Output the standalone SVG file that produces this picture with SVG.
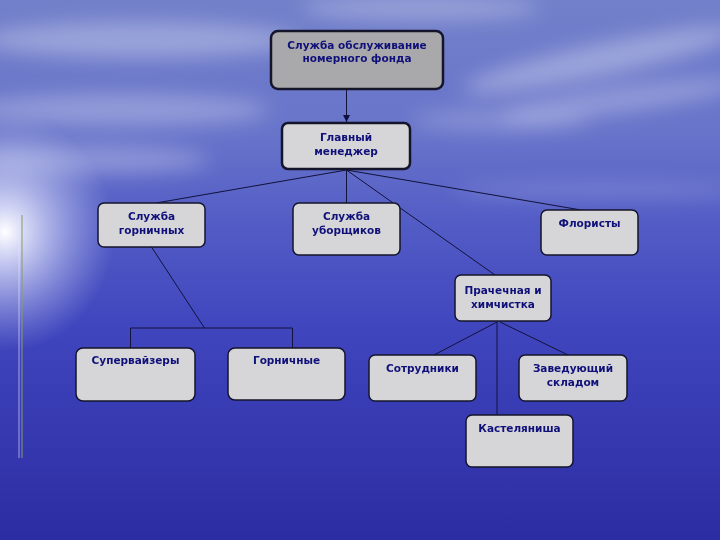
<svg xmlns="http://www.w3.org/2000/svg" width="720" height="540" viewBox="0 0 720 540">
  <defs>
    <linearGradient id="bg" x1="0" y1="0" x2="0" y2="1">
      <stop offset="0" stop-color="#7280ca"/>
      <stop offset="0.25" stop-color="#6874ca"/>
      <stop offset="0.4" stop-color="#545ec6"/>
      <stop offset="0.6" stop-color="#4046be"/>
      <stop offset="1" stop-color="#2c2ca2"/>
    </linearGradient>
    <radialGradient id="glow" cx="0.5" cy="0.5" r="0.5">
      <stop offset="0" stop-color="#ffffff" stop-opacity="1"/>
      <stop offset="0.25" stop-color="#eef0ff" stop-opacity="0.75"/>
      <stop offset="1" stop-color="#c0c8f0" stop-opacity="0"/>
    </radialGradient>
    <filter id="blur" x="-50%" y="-50%" width="200%" height="200%">
      <feGaussianBlur stdDeviation="10"/>
    </filter>
    <marker id="arrow" viewBox="0 0 10 10" refX="10" refY="5" markerWidth="7" markerHeight="7" orient="auto" markerUnits="userSpaceOnUse">
      <path d="M0,0 L10,5 L0,10 z" fill="#101040"/>
    </marker>
    <style>
      .box { fill: #d6d6d8; stroke: #14142a; stroke-width: 1.5; }
      .main { fill: #a9a9ab; stroke: #14142a; stroke-width: 2.5; }
      .mgr { fill: #d6d6d8; stroke: #14142a; stroke-width: 2.5; }
      .lbl { font-family: "DejaVu Sans", Verdana, sans-serif; font-size: 10.5px; font-weight: bold; fill: #10107a; text-anchor: middle; }
      .conn line, .conn polyline { stroke: #12123a; stroke-width: 1; fill: none; }
    </style>
  </defs>

  <!-- background -->
  <rect x="0" y="0" width="720" height="540" fill="url(#bg)"/>
  <g filter="url(#blur)" fill="#ffffff">
    <ellipse cx="140" cy="40" rx="160" ry="18" opacity="0.3"/>
    <ellipse cx="120" cy="110" rx="150" ry="16" opacity="0.28"/>
    <ellipse cx="90" cy="160" rx="120" ry="14" opacity="0.28"/>
    <ellipse cx="600" cy="60" rx="140" ry="16" opacity="0.32" transform="rotate(-12 600 60)"/>
    <ellipse cx="620" cy="100" rx="120" ry="12" opacity="0.28" transform="rotate(-8 620 100)"/>
    <ellipse cx="500" cy="120" rx="90" ry="10" opacity="0.22"/>
    <ellipse cx="420" cy="8" rx="120" ry="12" opacity="0.28"/>
    <ellipse cx="600" cy="190" rx="150" ry="8" opacity="0.18"/>
  </g>
  <ellipse cx="5" cy="232" rx="110" ry="120" fill="url(#glow)"/>

  <!-- decorative line -->
  <line x1="19" y1="215" x2="19" y2="458" stroke="#e0e4fa" stroke-width="0.8" opacity="0.8"/>
  <line x1="22" y1="215" x2="22" y2="458" stroke="#8a9a6a" stroke-width="1"/>

  <!-- connectors -->
  <g class="conn">
    <line x1="346.5" y1="90" x2="346.5" y2="122" marker-end="url(#arrow)"/>
    <line x1="346.5" y1="170" x2="156" y2="203"/>
    <line x1="346.5" y1="170" x2="346.5" y2="203"/>
    <line x1="346.5" y1="170" x2="581" y2="210"/>
    <line x1="346.5" y1="170" x2="495" y2="275"/>
    <line x1="151.5" y1="247" x2="204.5" y2="328"/>
    <polyline points="130.5,348 130.5,328 292.5,328 292.5,348"/>
    <line x1="497" y1="322" x2="434" y2="355"/>
    <line x1="500" y1="322" x2="568" y2="355"/>
    <line x1="497" y1="322" x2="497" y2="415"/>
  </g>

  <!-- nodes -->
  <g id="n-top">
    <rect class="main" x="271" y="31" width="172" height="58" rx="7"/>
    <text class="lbl" x="357" y="49">Служба обслуживание</text>
    <text class="lbl" x="357" y="62">номерного фонда</text>
  </g>
  <g id="n-manager">
    <rect class="mgr" x="282" y="123" width="128" height="46" rx="6"/>
    <text class="lbl" x="346" y="141">Главный</text>
    <text class="lbl" x="346" y="155">менеджер</text>
  </g>
  <g id="n-maids-service">
    <rect class="box" x="98" y="203" width="107" height="44" rx="6"/>
    <text class="lbl" x="151.5" y="220">Служба</text>
    <text class="lbl" x="151.5" y="234">горничных</text>
  </g>
  <g id="n-cleaners">
    <rect class="box" x="293" y="203" width="107" height="52" rx="6"/>
    <text class="lbl" x="346.5" y="220">Служба</text>
    <text class="lbl" x="346.5" y="234">уборщиков</text>
  </g>
  <g id="n-florists">
    <rect class="box" x="541" y="210" width="97" height="45" rx="6"/>
    <text class="lbl" x="589.5" y="227">Флористы</text>
  </g>
  <g id="n-laundry">
    <rect class="box" x="455" y="275" width="96" height="46" rx="6"/>
    <text class="lbl" x="503" y="294">Прачечная и</text>
    <text class="lbl" x="503" y="308">химчистка</text>
  </g>
  <g id="n-supervisors">
    <rect class="box" x="76" y="348" width="119" height="53" rx="7"/>
    <text class="lbl" x="135.5" y="364">Супервайзеры</text>
  </g>
  <g id="n-maids">
    <rect class="box" x="228" y="348" width="117" height="52" rx="7"/>
    <text class="lbl" x="286.5" y="364">Горничные</text>
  </g>
  <g id="n-staff">
    <rect class="box" x="369" y="355" width="107" height="46" rx="6"/>
    <text class="lbl" x="422.5" y="372">Сотрудники</text>
  </g>
  <g id="n-storekeeper">
    <rect class="box" x="519" y="355" width="108" height="46" rx="6"/>
    <text class="lbl" x="573" y="372">Заведующий</text>
    <text class="lbl" x="573" y="386">складом</text>
  </g>
  <g id="n-linen">
    <rect class="box" x="466" y="415" width="107" height="52" rx="6"/>
    <text class="lbl" x="519.5" y="432">Кастеляниша</text>
  </g>
</svg>
